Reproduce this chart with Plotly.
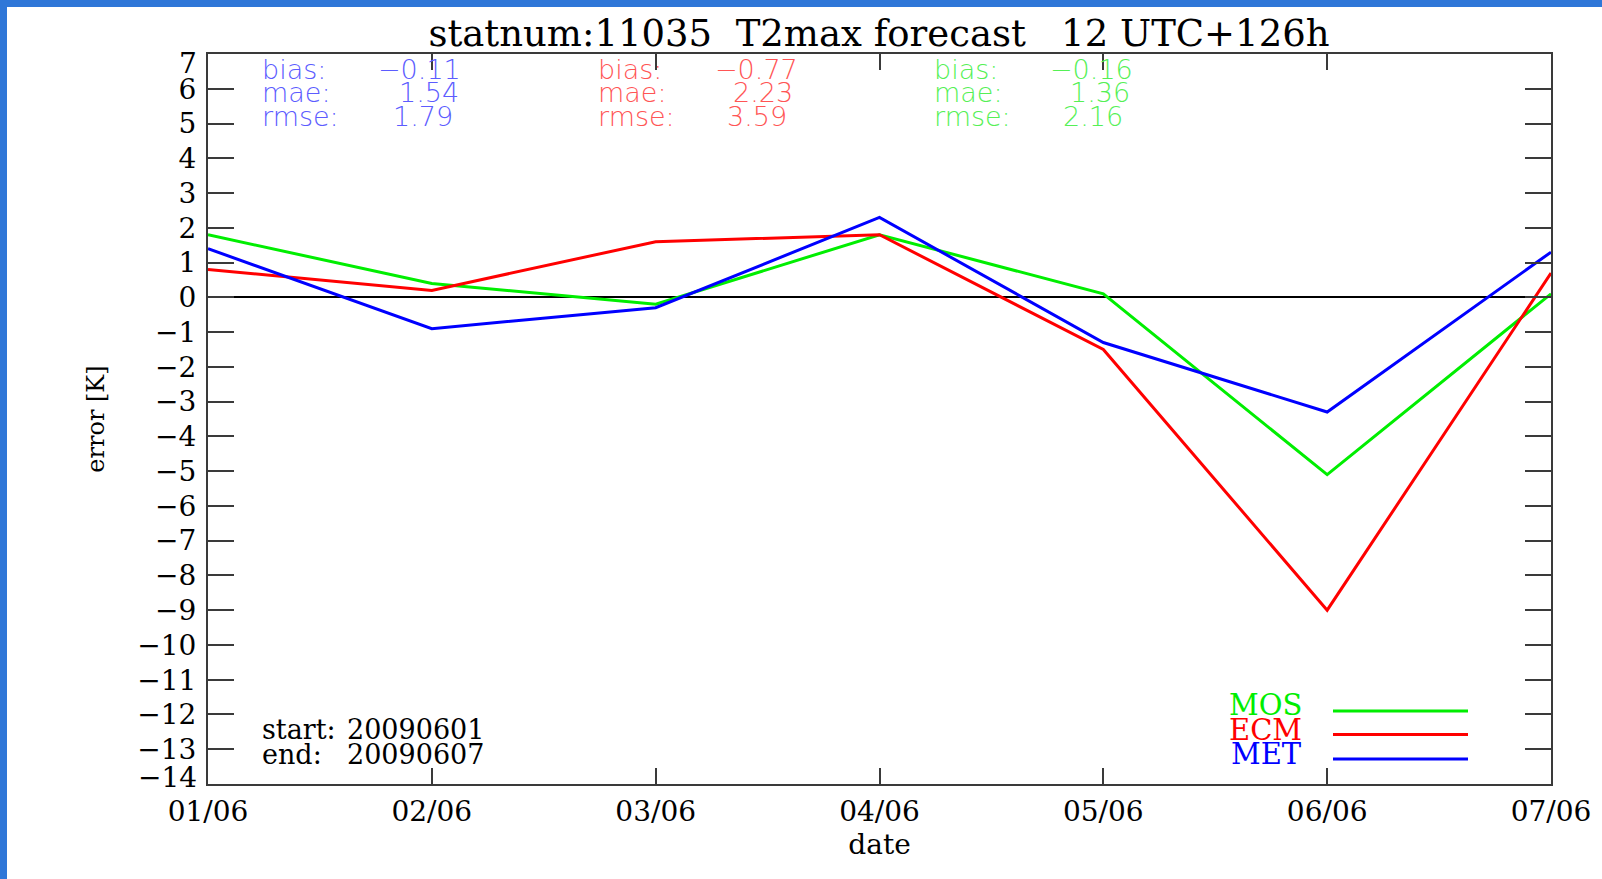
import plotly.graph_objects as go

# ---------------- data ----------------
dates = ["01/06", "02/06", "03/06", "04/06", "05/06", "06/06", "07/06"]
mos = [1.8, 0.4, -0.2, 1.8, 0.1, -5.1, 0.1]
ecm = [0.8, 0.2, 1.6, 1.8, -1.5, -9.0, 0.7]
met = [1.4, -0.9, -0.3, 2.3, -1.3, -3.3, 1.3]

ytick_vals = list(range(-13, 7))
yedge_vals = [7, -14]
series_names = ["MOS", "ECM", "MET"]
stat_labels = ["bias:", "mae:", "rmse:"]
stats_met = ["\u22120.11", "1.54", "1.79"]
stats_ecm = ["\u22120.77", "2.23", "3.59"]
stats_mos = ["\u22120.16", "1.36", "2.16"]
period_labels = ["start:", "end:"]
period_values = ["20090601", "20090607"]
title_text = "statnum:11035\u00a0\u00a0T2max forecast\u00a0\u00a0\u00a012 UTC+126h"

# ---------------- layout geometry ----------------
W, H = 1602, 879
L, R, T, B = 208, 51, 54, 95
PW, PH = W - L - R, H - T - B


def px(x):
    return (x - L) / PW


def py(y):
    return 1 - (y - T) / PH


GREEN, RED, BLUE = "#00ee00", "#ff0000", "#0000ff"
SGREEN, SRED, SBLUE = "#55f055", "#ff5555", "#5c5cff"
SERIF = "DejaVu Serif"
SANS = "DejaVu Sans"
AXC = "#3a3a3a"

fig = go.Figure()
for name, vals, col in [("MOS", mos, GREEN), ("ECM", ecm, RED), ("MET", met, BLUE)]:
    fig.add_trace(go.Scatter(x=dates, y=vals, mode="lines", name=name,
                             line=dict(color=col, width=3), showlegend=False))

ann = []
# statistics blocks
stat_rows_y = [69.5, 93, 116.5]
blocks = [
    (stats_met, SBLUE, 259.5, [419, 428.6, 422.5]),
    (stats_ecm, SRED, 596, [756.6, 763, 757]),
    (stats_mos, SGREEN, 932, [1091.7, 1099.9, 1093.2]),
]
for vals, col, lx, vxs in blocks:
    for lab, v, yy, vx in zip(stat_labels, vals, stat_rows_y, vxs):
        ann.append(dict(x=px(lx), y=py(yy), xref="paper", yref="paper", text=lab,
                        showarrow=False, xanchor="left", yanchor="middle",
                        font=dict(family=SANS, size=27, color=col, weight=200)))
        ann.append(dict(x=px(vx), y=py(yy), xref="paper", yref="paper", text=v,
                        showarrow=False, xanchor="center", yanchor="middle",
                        font=dict(family=SANS, size=27, color=col, weight=200)))

# edge y labels (drawn nudged inwards as in the original)
for v, yy in zip(yedge_vals, [63, 777]):
    ann.append(dict(x=px(199), y=py(yy), xref="paper", yref="paper",
                    text=str(v).replace("-", "\u2212"),
                    showarrow=False, xanchor="right", yanchor="middle",
                    font=dict(family=SERIF, size=28, color="black")))

# start / end
for lab, v, yy in zip(period_labels, period_values, [729.5, 754]):
    ann.append(dict(x=px(260), y=py(yy), xref="paper", yref="paper", text=lab,
                    showarrow=False, xanchor="left", yanchor="middle",
                    font=dict(family=SERIF, size=27, color="black")))
    ann.append(dict(x=px(345), y=py(yy), xref="paper", yref="paper", text=v,
                    showarrow=False, xanchor="left", yanchor="middle",
                    font=dict(family=SERIF, size=27, color="black")))

# custom legend
shapes = []
for name, col, ty, ly in zip(series_names, [GREEN, RED, BLUE], [705, 729.5, 754], [711, 734.6, 759]):
    ann.append(dict(x=px(1304), y=py(ty), xref="paper", yref="paper", text=name,
                    showarrow=False, xanchor="right", yanchor="middle",
                    font=dict(family=SERIF, size=29, color=col)))
    shapes.append(dict(type="line", xref="paper", yref="paper",
                       x0=px(1333), x1=px(1468), y0=py(ly), y1=py(ly),
                       line=dict(color=col, width=3)))

# blue frame of the screenshot (left and top edges)
shapes.append(dict(type="rect", xref="paper", yref="paper", layer="above",
                   x0=px(0), x1=px(7), y0=py(H), y1=py(0),
                   fillcolor="#2f77d8", line=dict(width=0)))
shapes.append(dict(type="rect", xref="paper", yref="paper", layer="above",
                   x0=px(0), x1=px(W), y0=py(7), y1=py(0),
                   fillcolor="#2f77d8", line=dict(width=0)))

fig.update_layout(
    width=W, height=H,
    margin=dict(l=L, r=R, t=T, b=B, pad=0),
    paper_bgcolor="white", plot_bgcolor="white",
    title=dict(text=title_text, x=px(879), xanchor="center", xref="paper",
               y=1 - 33 / H, yanchor="middle", yref="container",
               font=dict(family=SERIF, size=37, color="black")),
    annotations=ann, shapes=shapes,
    xaxis=dict(range=[0, 6], showgrid=False, zeroline=False,
               showline=True, linecolor=AXC, linewidth=2, mirror="ticks",
               ticks="inside", ticklen=16, tickwidth=2, tickcolor=AXC,
               tickfont=dict(family=SERIF, size=28, color="black"),
               ticklabelstandoff=1,
               title=dict(text="date", font=dict(family=SERIF, size=28, color="black"),
                          standoff=0)),
    yaxis=dict(range=[-14, 7], showgrid=False,
               zeroline=True, zerolinecolor="black", zerolinewidth=1.5,
               showline=True, linecolor=AXC, linewidth=2, mirror="ticks",
               ticks="inside", ticklen=26, tickwidth=2, tickcolor=AXC,
               tickvals=ytick_vals,
               tickfont=dict(family=SERIF, size=28, color="black"),
               ticklabelstandoff=4,
               title=dict(text="error [K]", font=dict(family=SERIF, size=24, color="black"),
                          standoff=26)),
)

fig.write_html("out.html", config={"displayModeBar": False},
               post_script="document.body.style.margin='0';document.body.style.overflow='hidden';")
